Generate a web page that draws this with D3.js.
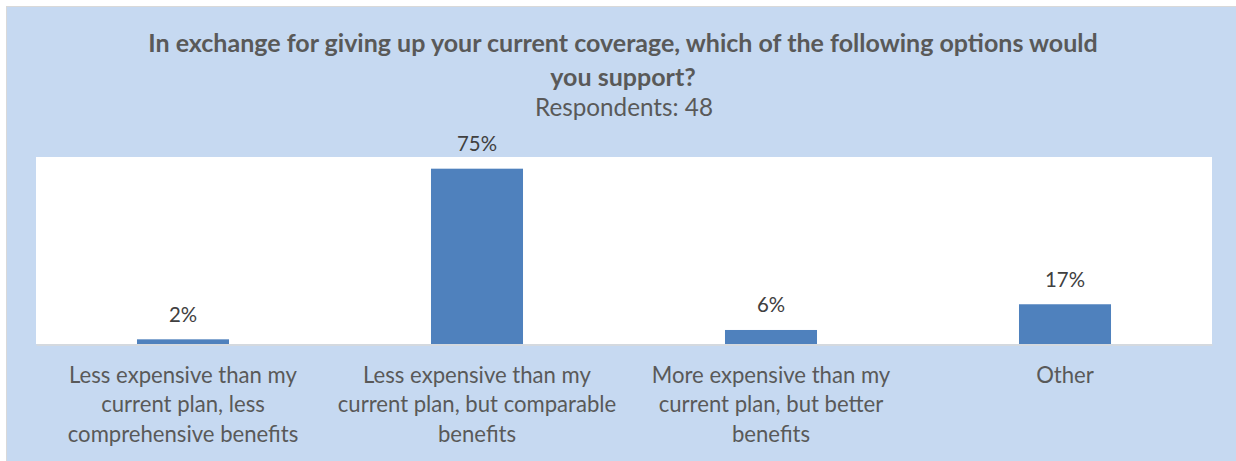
<!DOCTYPE html>
<html>
<head>
<meta charset="utf-8">
<script src="https://cdn.jsdelivr.net/npm/d3@7/dist/d3.min.js"></script>
<style>
  html, body { margin: 0; padding: 0; background: #ffffff; }
  svg { display: block; }
  text { font-family: Lato, "Open Sans", sans-serif; fill: #595959; }
</style>
</head>
<body>
<svg id="chart" width="1236" height="461"></svg>
<script>
// Survey results: share of respondents supporting each option
const titleLines = [
  "In exchange for giving up your current coverage, which of the following options would",
  "you support?"
];
const subtitle = "Respondents: 48";
const categories = [
  "Less expensive than my\ncurrent plan, less\ncomprehensive benefits",
  "Less expensive than my\ncurrent plan, but comparable\nbenefits",
  "More expensive than my\ncurrent plan, but better\nbenefits",
  "Other"
];
const values = [2, 75, 6, 17];
const yMax = 80;

const W = 1236, H = 461;
const plot = { left: 36, right: 1212, top: 157, bottom: 344 };

const svg = d3.select("#chart");

// Chart frame
svg.append("rect")
  .attr("x", 6.5).attr("y", 6.5)
  .attr("width", W + 10).attr("height", H + 10)
  .attr("fill", "#c6d9f1")
  .attr("stroke", "#d9d9d9").attr("stroke-width", 1);

// Plot area
svg.append("rect")
  .attr("x", plot.left).attr("y", plot.top)
  .attr("width", plot.right - plot.left).attr("height", plot.bottom - plot.top)
  .attr("fill", "#ffffff");

const x = d3.scaleBand()
  .domain(categories)
  .range([plot.left, plot.right])
  .paddingInner(0.687)
  .paddingOuter(0.687 / 2);

const y = d3.scaleLinear().domain([0, yMax]).range([plot.bottom, plot.top]);

// Scale a text element's font so its rendered width equals a given width
function fitFont(node, target, base) {
  node.style.fontSize = base + "px";
  const w = node.getComputedTextLength();
  const size = base * target / w;
  node.style.fontSize = size + "px";
  return size;
}

// Title
const cx = 623;
const t1 = svg.append("text")
  .attr("x", cx).attr("y", 52)
  .attr("text-anchor", "middle")
  .attr("font-weight", "bold")
  .text(titleLines[0]);
const titleSize = fitFont(t1.node(), 950, 24);
svg.append("text")
  .attr("x", cx).attr("y", 86)
  .attr("text-anchor", "middle")
  .attr("font-weight", "bold")
  .style("font-size", titleSize + "px")
  .text(titleLines[1]);

const st = svg.append("text")
  .attr("x", 624).attr("y", 116)
  .attr("text-anchor", "middle")
  .text(subtitle);
fitFont(st.node(), 178, 24);

// Bars
svg.append("g")
  .selectAll("rect")
  .data(values)
  .join("rect")
  .attr("x", (d, i) => x(categories[i]))
  .attr("width", x.bandwidth())
  .attr("y", d => y(d))
  .attr("height", d => y(0) - y(d))
  .attr("fill", "#4f81bd");

// Category axis line
const axis = d3.axisBottom(x).tickSize(0).tickFormat("");
const axisG = svg.append("g")
  .attr("transform", `translate(0,${plot.bottom + 0.5})`)
  .call(axis);
axisG.select(".domain").attr("stroke", "#d9d9d9").attr("stroke-width", 1.3);

// Value labels
const probe = svg.append("text").text("17%");
const valueSize = fitFont(probe.node(), 40, 24);
probe.remove();

svg.append("g")
  .selectAll("text")
  .data(values)
  .join("text")
  .attr("x", (d, i) => x(categories[i]) + x.bandwidth() / 2)
  .attr("y", d => y(d) - 17.5)
  .attr("text-anchor", "middle")
  .style("font-size", valueSize + "px")
  .style("fill", "#404040")
  .text(d => d + "%");

// Category labels
const probe2 = svg.append("text").text("Less expensive than my");
const catSize = fitFont(probe2.node(), 228, 24);
probe2.remove();

const catG = svg.append("g");
categories.forEach(c => {
  const lines = c.split("\n");
  const tx = catG.append("text")
    .attr("text-anchor", "middle")
    .style("font-size", catSize + "px");
  lines.forEach((ln, j) => {
    tx.append("tspan")
      .attr("x", x(c) + x.bandwidth() / 2)
      .attr("y", 383 + j * 29.3)
      .text(ln);
  });
});
</script>
</body>
</html>
